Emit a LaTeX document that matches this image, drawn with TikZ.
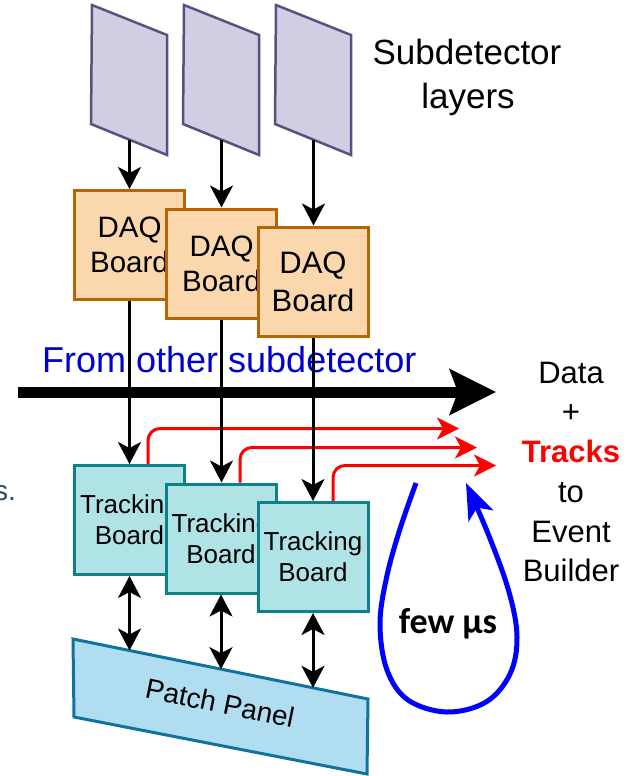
\documentclass[tikz,border=0pt]{standalone}
\usepackage{fontspec}
\setmainfont{Liberation Sans}
\newfontfamily\carlito{Carlito}
\usetikzlibrary{arrows.meta,calc}

\definecolor{detfill}{HTML}{D0CEE2}
\definecolor{detline}{HTML}{56517E}
\definecolor{daqfill}{HTML}{FAD7AC}
\definecolor{daqline}{HTML}{B46504}
\definecolor{trkfill}{HTML}{B0E3E6}
\definecolor{trkline}{HTML}{0E8088}
\definecolor{ppfill}{HTML}{B1DDF0}
\definecolor{ppline}{HTML}{10739E}
\definecolor{srcblue}{HTML}{0000CC}
\definecolor{slate}{HTML}{2A4B5B}

\newcommand\fsz[2]{\fontsize{#1}{#2}\selectfont}

\begin{document}
\begin{tikzpicture}[x=1pt,y=-1pt,
  det/.style={draw=detline, fill=detfill, line width=2.5pt, line join=miter},
  board/.style={line width=3pt, minimum width=110pt, minimum height=109pt,
    inner sep=0pt, align=center},
  daq/.style={board, draw=daqline, fill=daqfill},
  trk/.style={board, draw=trkline, fill=trkfill, font=\fsz{26}{31}},
  conn/.style={draw=black, line width=3pt,
    -{Stealth[length=22pt,width=23pt,inset=6pt]}},
  dconn/.style={draw=black, line width=3pt,
    {Stealth[length=22pt,width=23pt,inset=6pt]}-{Stealth[length=22pt,width=23pt,inset=6pt]}},
  trackout/.style={draw=red, line width=3pt, rounded corners=12pt,
    -{Stealth[length=22pt,width=22pt,inset=6pt]}},
  label/.style={inner sep=0pt, anchor=base, font=\fsz{31}{38}}
]
\useasboundingbox (0,0) rectangle (635,776);

% subdetector layers
\foreach \i/\dx in {1/0, 2/92, 3/184} {
  \begin{scope}[xshift=\dx]
    \draw[det] (92,5) -- (167,35) -- (167,155) -- (91,124) -- cycle;
    \coordinate (det\i) at (129.5,139.7);
  \end{scope}
}
\node[inner sep=0pt, anchor=base, font=\fsz{35}{43}] (sublbl1) at (467,65) {Subdetector};
\node[inner sep=0pt, anchor=base, font=\fsz{35}{43}] (sublbl2) at (468,108) {layers};

% DAQ boards
\node[daq, font=\fsz{29.5}{35}] (daq1) at (129.5,245) {DAQ\\Board};
\node[daq, font=\fsz{29.5}{35}] (daq2) at (221.5,263.5) {DAQ\\Board};
\node[daq, font=\fsz{31}{38}] (daq3) at (313,281.5) {DAQ\\Board};

\draw[conn] (det1) -- (det1 |- daq1.north);
\draw[conn] (det2) -- (det2 |- daq2.north);
\draw[conn] (det3) -- (det3 |- daq3.north);

% data stream from other subdetectors
\node[inner sep=0pt, anchor=base west, text=srcblue, font=\fsz{36}{43}] (other) at (42,372) {From other subdetector};
\coordinate (busstart) at (18,392);
\coordinate (busend) at (496,392);
\draw[line width=11pt, -{Stealth[length=46pt,width=45pt,inset=8pt]}] (busstart) -- (busend);

% tracking boards
\node[trk] (trk1) at (129.5,520) {Tracking\\Board};
\node[trk] (trk2) at (221,538.5) {Tracking\\Board};
\node[trk] (trk3) at (313,557) {Tracking\\Board};

% track output
\coordinate (out1) at (459,428.5);
\coordinate (out2) at (477,447.5);
\coordinate (out3) at (496,465.5);
\draw[trackout] ($(trk1.north)+(18.5,0)$) |- (out1);
\draw[trackout] ($(trk2.north)+(19,0)$) |- (out2);
\draw[trackout] ($(trk3.north)+(20,0)$) |- (out3);

% DAQ to tracking
\draw[conn] (daq1.south) -- (daq1.south |- trk1.north);
\draw[conn] (daq2.south) -- (daq2.south |- trk2.north);
\draw[conn] (daq3.south) -- (daq3.south |- trk3.north);

% patch panel
\coordinate (ptl) at (73,639);
\coordinate (ptr) at (368,699);
\coordinate (pbr) at (367,774);
\coordinate (pbl) at (74,717);
\draw[draw=ppline, fill=ppfill, line width=3pt] (ptl) -- (ptr) -- (pbr) -- (pbl) -- cycle;
\node[rotate=-11.5, inner sep=0pt, font=\fsz{28}{34}] (pptext) at (220,703) {Patch Panel};
\coordinate (pp1) at ($(ptl)!0.1915!(ptr)$);
\coordinate (pp2) at ($(ptl)!0.503!(ptr)$);
\coordinate (pp3) at ($(ptl)!0.8136!(ptr)$);
\draw[dconn] (trk1.south) -- (trk1.south |- pp1);
\draw[dconn] (trk2.south) -- (trk2.south |- pp2);
\draw[dconn] (trk3.south) -- (trk3.south |- pp3);

% latency loop
\draw[draw=blue, line width=5pt, -{Stealth[length=36pt,width=27pt,inset=9pt]}]
  plot[smooth, tension=0.6] coordinates {(416,483) (399,532) (386,580) (380,625)
  (387,670) (408,700) (447,712) (486,702) (510,674) (517,637) (509,592) (489,536) (466,483)};
\node[inner sep=0pt, anchor=base, font=\carlito\bfseries\fsz{36}{42}] (latency) at (448,633) {few µs};

% output labels
\node[label] (outa) at (571,383) {Data};
\node[label] (outb) at (571,422) {+};
\node[label, text=red, font=\bfseries\fsz{31}{38}] (outc) at (571,462) {Tracks};
\node[label] (outd) at (571,502) {to};
\node[label] (oute) at (571,542) {Event};
\node[label] (outf) at (571,581) {Builder};

% margin text running off the left edge
\node[inner sep=0pt, anchor=base east, text=slate, font=\fsz{28}{34}] (edge) at (16,500) {s.};
\end{tikzpicture}
\end{document}
